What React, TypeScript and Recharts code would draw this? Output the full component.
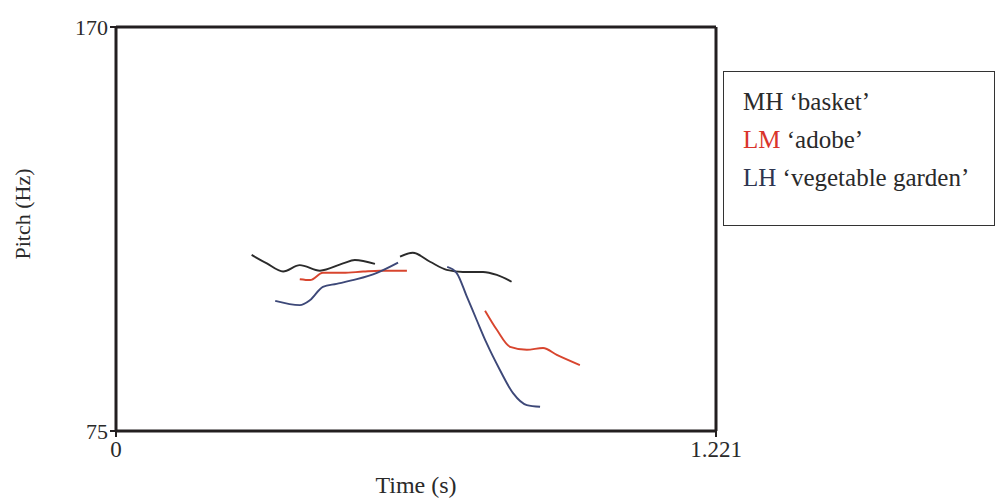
import React from 'react';
import { LineChart, Line, XAxis, YAxis, ReferenceLine } from 'recharts';

// Time (s) and pitch (Hz) samples
const mhTime1 = [0.276, 0.307, 0.340, 0.374, 0.415, 0.462, 0.486, 0.527];
const mhPitch1 = [116.4, 114.4, 112.5, 114.0, 112.7, 114.4, 115.2, 114.3];
const mhTime2 = [0.578, 0.604, 0.639, 0.673, 0.706, 0.747, 0.775, 0.805];
const mhPitch2 = [116.0, 116.9, 114.8, 112.9, 112.4, 112.4, 111.7, 110.1];

const lmTime1 = [0.374, 0.395, 0.421, 0.462, 0.503, 0.537, 0.592];
const lmPitch1 = [110.7, 110.5, 112.2, 112.2, 112.5, 112.7, 112.7];
const lmTime2 = [0.751, 0.775, 0.802, 0.836, 0.869, 0.897, 0.944];
const lmPitch2 = [103.3, 98.8, 94.8, 94.1, 94.5, 92.9, 90.5];

const lhTime1 = [0.324, 0.374, 0.395, 0.421, 0.449, 0.490, 0.531, 0.574];
const lhPitch1 = [105.6, 104.6, 105.8, 108.9, 109.6, 110.7, 112.2, 114.6];
const lhTime2 = [0.674, 0.693, 0.714, 0.734, 0.754, 0.781, 0.808, 0.836, 0.863];
const lhPitch2 = [113.6, 112.2, 106.6, 101.1, 95.7, 89.4, 83.9, 81.1, 80.7];

const xTicks = [0, 1.221];
const yTicks = [75, 170];
const xDomain = [0, 1.221];
const yDomain = [75, 170];

const legendItems = [
  { code: 'MH', gloss: '‘basket’', color: '#2a2a2a' },
  { code: 'LM', gloss: '‘adobe’', color: '#d9342b' },
  { code: 'LH', gloss: '‘vegetable garden’', color: '#2e3550' },
];

const zip = (t: number[], p: number[]) => t.map((x, i) => ({ t: x, hz: p[i] }));

const COLORS = { mh: '#2b2b2b', lm: '#d8452e', lh: '#3d4878' };
const FONT = '"Liberation Serif", "Times New Roman", serif';
const AXIS = '#231f20';
const TEXT = '#2a2a2a';

const LegendBox = () => (
  <div
    style={{
      position: 'absolute',
      left: 723,
      top: 71,
      width: 272,
      height: 155,
      border: '1.5px solid #333',
      boxSizing: 'border-box',
      paddingLeft: 19,
      paddingTop: 14,
      fontFamily: FONT,
      fontSize: 25,
      color: TEXT,
      background: '#fff',
    }}
  >
    {legendItems.map((it) => (
      <div key={it.code} style={{ height: 38, lineHeight: '32px', whiteSpace: 'nowrap' }}>
        <span style={{ color: it.color }}>{it.code}</span> {it.gloss}
      </div>
    ))}
  </div>
);

const YLabel = (props: any) => {
  const vb = props.viewBox || {};
  const cx = 22;
  const cy = vb.y + vb.height / 2 - 15;
  return (
    <text
      x={cx}
      y={cy}
      transform={`rotate(-90, ${cx}, ${cy})`}
      textAnchor="middle"
      dominantBaseline="central"
      fontFamily={FONT}
      fontSize={22}
      fill={TEXT}
    >
      Pitch (Hz)
    </text>
  );
};

const lineProps = {
  xAxisId: 'b',
  yAxisId: 'l',
  dataKey: 'hz',
  type: 'monotone' as const,
  strokeWidth: 1.9,
  dot: false,
  activeDot: false,
  isAnimationActive: false,
};

export default function App() {
  return (
    <div style={{ position: 'absolute', left: 0, top: 0, width: 1000, height: 500, background: '#fff' }}>
      <LineChart
        width={1000}
        height={500}
        margin={{ top: 27, right: 284, left: 0, bottom: 0 }}
        style={{ fontFamily: FONT }}
      >
        <XAxis
          xAxisId="b"
          dataKey="t"
          type="number"
          domain={xDomain}
          ticks={xTicks}
          height={69}
          axisLine={{ stroke: AXIS, strokeWidth: 3 }}
          tickLine={{ stroke: AXIS, strokeWidth: 2 }}
          tickSize={6}
          tickMargin={4}
          tick={{ fill: TEXT, fontSize: 23, fontFamily: FONT }}
          label={{ value: 'Time (s)', position: 'insideBottom', offset: 7, fill: TEXT, fontSize: 24, fontFamily: FONT }}
          allowDuplicatedCategory={false}
        />
        <YAxis
          yAxisId="l"
          type="number"
          domain={yDomain}
          ticks={yTicks}
          width={116}
          axisLine={{ stroke: AXIS, strokeWidth: 3 }}
          tickLine={{ stroke: AXIS, strokeWidth: 2 }}
          tickSize={6}
          tickMargin={2}
          tick={{ fill: TEXT, fontSize: 22, fontFamily: FONT }}
          label={<YLabel />}
        />
        <ReferenceLine xAxisId="b" yAxisId="l" y={170} stroke={AXIS} strokeWidth={3} />
        <ReferenceLine xAxisId="b" yAxisId="l" x={1.221} stroke={AXIS} strokeWidth={3} />
        <Line {...lineProps} data={zip(mhTime1, mhPitch1)} stroke={COLORS.mh} />
        <Line {...lineProps} data={zip(mhTime2, mhPitch2)} stroke={COLORS.mh} />
        <Line {...lineProps} data={zip(lmTime1, lmPitch1)} stroke={COLORS.lm} />
        <Line {...lineProps} data={zip(lmTime2, lmPitch2)} stroke={COLORS.lm} />
        <Line {...lineProps} data={zip(lhTime1, lhPitch1)} stroke={COLORS.lh} />
        <Line {...lineProps} data={zip(lhTime2, lhPitch2)} stroke={COLORS.lh} />
      </LineChart>
      <LegendBox />
    </div>
  );
}
